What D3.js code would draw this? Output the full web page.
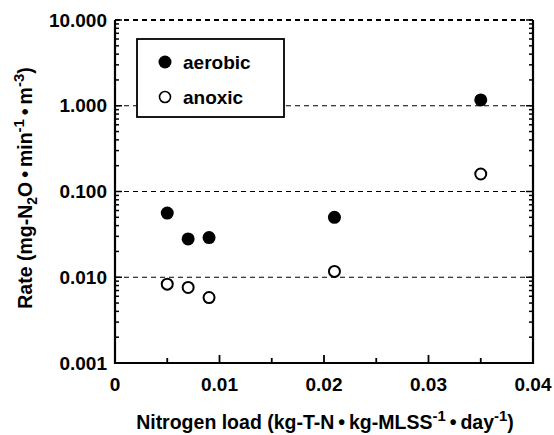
<!DOCTYPE html>
<html>
<head>
<meta charset="utf-8">
<script src="https://cdn.jsdelivr.net/npm/d3@7"></script>
<style>
  body { margin: 0; background: #fff; }
  svg { font-family: "Liberation Sans", Arial, Helvetica, sans-serif; font-weight: bold; }
</style>
</head>
<body>
<svg id="chart" width="554" height="435"></svg>
<script>
// Nitrogen load (kg-T-N / kg-MLSS / day)
const aerobicLoad = [0.005, 0.007, 0.009, 0.021, 0.035];
const aerobicRate = [0.056, 0.028, 0.029, 0.050, 1.17];
const anoxicLoad  = [0.005, 0.007, 0.009, 0.021, 0.035];
const anoxicRate  = [0.0083, 0.0076, 0.0058, 0.0117, 0.16];

const xTicks = [0, 0.01, 0.02, 0.03, 0.04];
const xTickLabels = ['0', '0.01', '0.02', '0.03', '0.04'];
const yTicks = [0.001, 0.01, 0.1, 1, 10];
const yTickLabels = ['0.001', '0.010', '0.100', '1.000', '10.000'];
const gridValues = [0.01, 0.1, 1, 10];

const seriesNames = ['aerobic', 'anoxic'];

const svg = d3.select('#chart');
const margin = { left: 115, right: 21, top: 20, bottom: 72 };
const width = 554 - margin.left - margin.right;
const height = 435 - margin.top - margin.bottom;

const x = d3.scaleLinear().domain([0, 0.04]).range([margin.left, margin.left + width]);
const y = d3.scaleLog().domain([0.001, 10]).range([margin.top + height, margin.top]);

// dashed gridlines at decades
svg.append('g')
  .selectAll('line')
  .data(gridValues)
  .join('line')
  .attr('x1', x(0)).attr('x2', x(0.04))
  .attr('y1', d => y(d)).attr('y2', d => y(d))
  .attr('stroke', '#000')
  .attr('stroke-width', d => d === 10 ? 1.8 : 1.2)
  .attr('stroke-dasharray', '5,4');

// minor log ticks (2..9 within each decade)
const minorY = [];
for (let e = -3; e < 1; e++) {
  for (let m = 2; m <= 9; m++) minorY.push(m * Math.pow(10, e));
}
const yAll = minorY.concat(yTicks);

// left axis ticks (inward)
svg.append('g')
  .selectAll('line')
  .data(yAll)
  .join('line')
  .attr('x1', x(0)).attr('x2', d => x(0) + (yTicks.includes(d) ? 7 : 4))
  .attr('y1', d => y(d)).attr('y2', d => y(d))
  .attr('stroke', '#000').attr('stroke-width', 1.5);

// right axis ticks (inward)
svg.append('g')
  .selectAll('line')
  .data(yAll)
  .join('line')
  .attr('x1', x(0.04)).attr('x2', d => x(0.04) - (yTicks.includes(d) ? 7 : 4))
  .attr('y1', d => y(d)).attr('y2', d => y(d))
  .attr('stroke', '#000').attr('stroke-width', 1.5);

// bottom axis ticks (inward), minor at half steps
const xMinor = [0.005, 0.015, 0.025, 0.035];
svg.append('g')
  .selectAll('line')
  .data(xTicks.concat(xMinor))
  .join('line')
  .attr('x1', d => x(d)).attr('x2', d => x(d))
  .attr('y1', y(0.001)).attr('y2', d => y(0.001) - (xTicks.includes(d) ? 8 : 5))
  .attr('stroke', '#000').attr('stroke-width', 1.8);

// axis lines: left, bottom, right
svg.append('path')
  .attr('d', `M${x(0)},${y(10)} V${y(0.001)} H${x(0.04)} V${y(10)}`)
  .attr('fill', 'none')
  .attr('stroke', '#000')
  .attr('stroke-width', 2.2);

// tick labels
svg.append('g')
  .selectAll('text')
  .data(yTicks)
  .join('text')
  .attr('x', x(0) - 8)
  .attr('y', d => y(d) + 6.5)
  .attr('text-anchor', 'end')
  .attr('font-size', 19)
  .text((d, i) => yTickLabels[i]);

svg.append('g')
  .selectAll('text')
  .data(xTicks)
  .join('text')
  .attr('x', d => x(d))
  .attr('y', y(0.001) + 28)
  .attr('text-anchor', 'middle')
  .attr('font-size', 19)
  .text((d, i) => xTickLabels[i]);

// axis titles
const dot = '\u2009\u2022\u2009';
const xt = svg.append('text')
  .attr('x', 325).attr('y', 429)
  .attr('text-anchor', 'middle')
  .attr('font-size', 19.5);
xt.append('tspan').text('Nitrogen load (kg-T-N' + dot + 'kg-MLSS');
xt.append('tspan').attr('dy', -8).attr('font-size', 15).text('-1');
xt.append('tspan').attr('dy', 8).text(dot + 'day');
xt.append('tspan').attr('dy', -8).attr('font-size', 15).text('-1');
xt.append('tspan').attr('dy', 8).text(')');

const yt = svg.append('text')
  .attr('transform', 'translate(32,188) rotate(-90)')
  .attr('text-anchor', 'middle')
  .attr('font-size', 19.5);
yt.append('tspan').text('Rate (mg-N');
yt.append('tspan').attr('dy', 5).attr('font-size', 14).text('2');
yt.append('tspan').attr('dy', -5).text('O' + dot + 'min');
yt.append('tspan').attr('dy', -8).attr('font-size', 15).text('-1');
yt.append('tspan').attr('dy', 8).text(dot + 'm');
yt.append('tspan').attr('dy', -8).attr('font-size', 15).text('-3');
yt.append('tspan').attr('dy', 8).text(')');

// data points
const aerobic = aerobicLoad.map((d, i) => ({ x: d, y: aerobicRate[i] }));
const anoxic = anoxicLoad.map((d, i) => ({ x: d, y: anoxicRate[i] }));

svg.append('g')
  .selectAll('circle')
  .data(aerobic)
  .join('circle')
  .attr('cx', d => x(d.x)).attr('cy', d => y(d.y))
  .attr('r', 6.5)
  .attr('fill', '#000');

svg.append('g')
  .selectAll('circle')
  .data(anoxic)
  .join('circle')
  .attr('cx', d => x(d.x)).attr('cy', d => y(d.y))
  .attr('r', 5.5)
  .attr('fill', '#fff')
  .attr('stroke', '#000')
  .attr('stroke-width', 2);

// legend
const legend = svg.append('g');
legend.append('rect')
  .attr('x', 137).attr('y', 39)
  .attr('width', 147).attr('height', 78)
  .attr('fill', '#fff')
  .attr('stroke', '#000')
  .attr('stroke-width', 1.8);

const legendRows = legend.selectAll('g.row')
  .data(seriesNames)
  .join('g')
  .attr('class', 'row')
  .attr('transform', (d, i) => `translate(165,${62 + i * 35})`);

legendRows.append('circle')
  .attr('r', d => d === 'aerobic' ? 6.5 : 5.5)
  .attr('fill', d => d === 'aerobic' ? '#000' : '#fff')
  .attr('stroke', '#000')
  .attr('stroke-width', d => d === 'aerobic' ? 0 : 1.6);

legendRows.append('text')
  .attr('x', 18).attr('y', 7)
  .attr('font-size', 19)
  .text(d => d);
</script>
</body>
</html>
